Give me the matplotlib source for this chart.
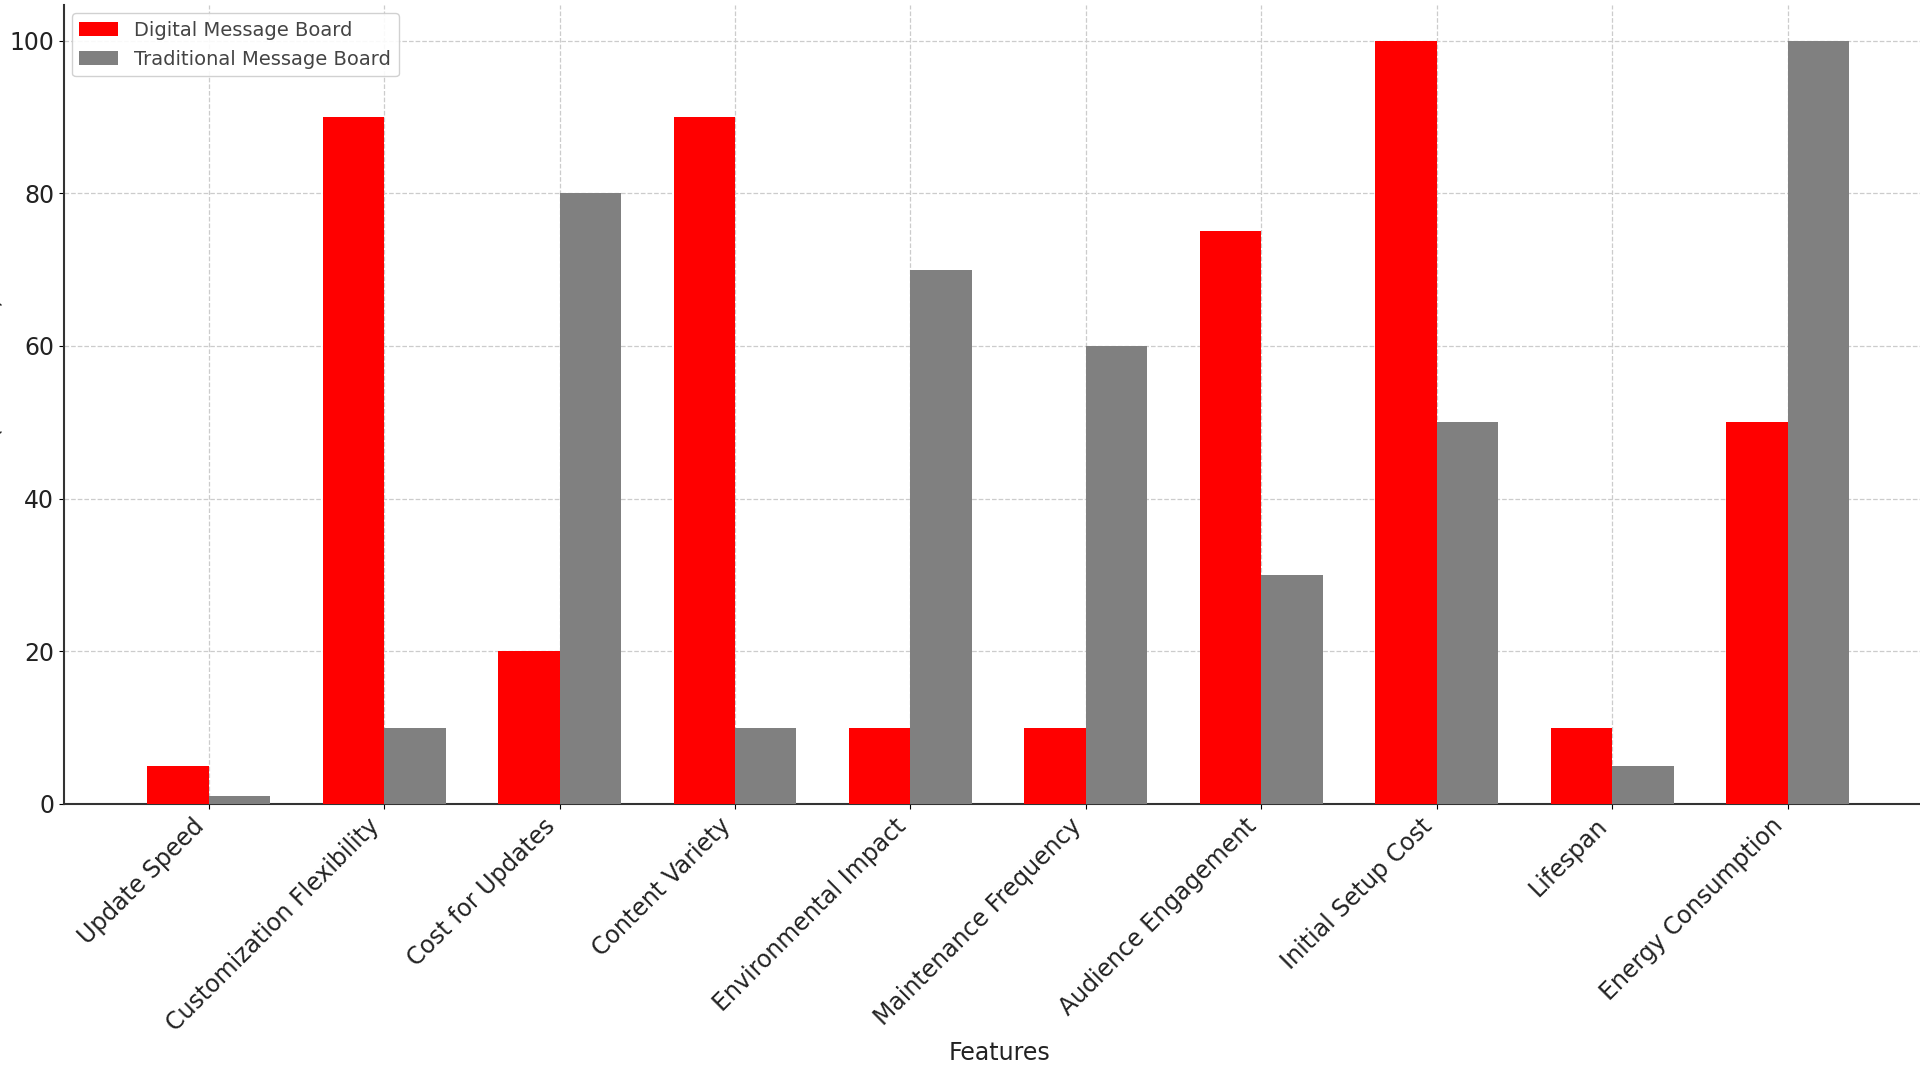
import numpy as np
import matplotlib
matplotlib.use('Agg')
import matplotlib.pyplot as plt

features = ['Update Speed', 'Customization Flexibility', 'Cost for Updates',
            'Content Variety', 'Environmental Impact', 'Maintenance Frequency',
            'Audience Engagement', 'Initial Setup Cost', 'Lifespan',
            'Energy Consumption']
digital = [5, 90, 20, 90, 10, 10, 75, 100, 10, 50]
traditional = [1, 10, 80, 10, 70, 60, 30, 50, 5, 100]

fig = plt.figure(figsize=(19.2, 10.8), dpi=100)
ax = fig.add_axes([0.0333, 0.2556, 0.975, 0.7394])

x = np.arange(len(features))
bw = 0.35
ax.bar(x - bw / 2, digital, bw, color='red', label='Digital Message Board', zorder=3)
ax.bar(x + bw / 2, traditional, bw, color='gray', label='Traditional Message Board', zorder=3)

ax.set_xticks(x)
ax.set_xticklabels(features, rotation=45, ha='right', fontsize=17, color='#222222')
ax.tick_params(axis='y', labelsize=17, labelcolor='#222222')
ax.set_xlim(-0.825, 9.845)
ax.set_ylim(0, 104.6)
ax.grid(True, linestyle='--', color='#cccccc', linewidth=0.9, zorder=0)
ax.spines['top'].set_visible(False)
ax.spines['right'].set_visible(False)
for s in ['left', 'bottom']:
    ax.spines[s].set_color('#333333')
    ax.spines[s].set_linewidth(1.5)

ax.set_xlabel('Features', fontsize=17, color='#222222', labelpad=4)
# the reference shows this label cut at the left edge
ax.set_ylabel('Score (out of 100)', fontsize=17, color='#222222')

leg = ax.legend(loc='upper left', fontsize=14, frameon=True, framealpha=0.9,
                edgecolor='#cccccc', borderaxespad=0.4)
for t in leg.get_texts():
    t.set_color('#444444')

fig.savefig('out.png', dpi=100)
